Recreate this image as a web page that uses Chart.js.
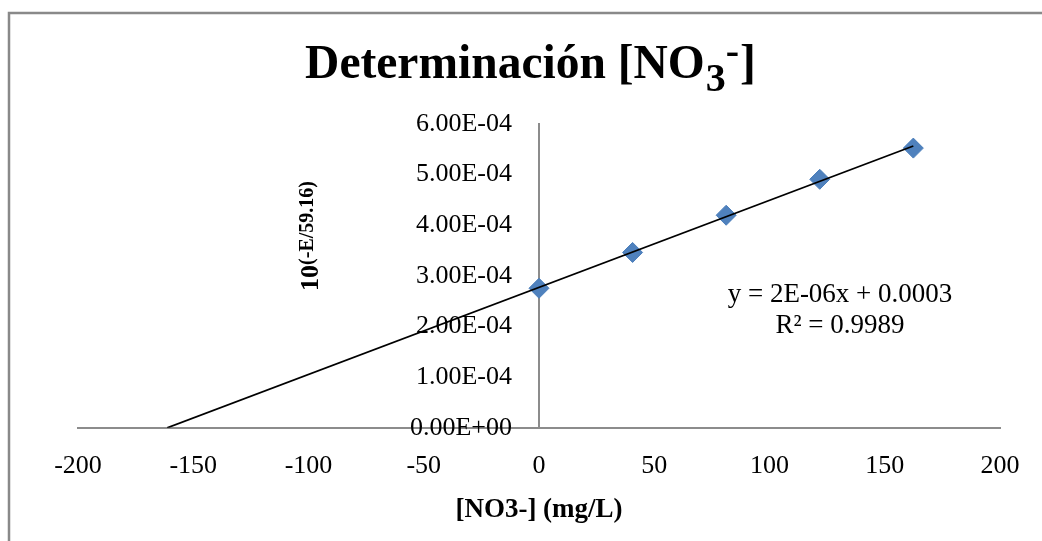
<!DOCTYPE html>
<html><head><meta charset="utf-8">
<script src="https://cdn.jsdelivr.net/npm/chart.js"></script>
<style>html,body{margin:0;padding:0;background:#fff}canvas{display:block}</style>
</head><body>
<canvas id="c" width="1042" height="541"></canvas>
<script>
// ---- data ----
const concentrations = [0, 40.6, 81.2, 121.8, 162.4];          // [NO3-] mg/L
const signal = [2.756e-4, 3.463e-4, 4.198e-4, 4.908e-4, 5.524e-4]; // 10^(-E/59.16)
const xTicks = [-200, -150, -100, -50, 0, 50, 100, 150, 200];
const yTicks = [0, 1e-4, 2e-4, 3e-4, 4e-4, 5e-4, 6e-4];
const chartTitle = ['Determinación [NO', '3', '-', ']'];
const yTitle = ['10', '(-E/59.16)'];
const xTitle = '[NO3-] (mg/L)';
const equationLines = ['y = 2E-06x + 0.0003', 'R² = 0.9989'];

// ---- linear trendline (least squares), extended back to y = 0 ----
const n = concentrations.length;
const mx = concentrations.reduce((a, b) => a + b, 0) / n;
const my = signal.reduce((a, b) => a + b, 0) / n;
let sxy = 0, sxx = 0;
for (let i = 0; i < n; i++) { sxy += (concentrations[i] - mx) * (signal[i] - my); sxx += (concentrations[i] - mx) ** 2; }
const slope = sxy / sxx, intercept = my - slope * mx;
const xStart = -intercept / slope, xEnd = concentrations[n - 1];
const trendData = [xStart, xEnd].map(x => ({ x, y: intercept + slope * x }));
const pointData = concentrations.map((x, i) => ({ x, y: signal[i] }));

function sci(v) {
  if (Math.abs(v) < 1e-12) return '0.00E+00';
  const [m, e] = v.toExponential(2).split('e');
  const ev = parseInt(e, 10);
  return m + 'E' + (ev < 0 ? '-' : '+') + String(Math.abs(ev)).padStart(2, '0');
}

const SERIF = "'Liberation Serif', 'Times New Roman', serif";
Chart.defaults.font.family = SERIF;
Chart.defaults.color = '#000';

const decor = {
  id: 'decor',
  beforeDraw(chart) {
    const ctx = chart.ctx;
    ctx.save();
    ctx.fillStyle = '#fff';
    ctx.fillRect(0, 0, chart.width, chart.height);
    ctx.strokeStyle = '#898989';
    ctx.lineWidth = 2.5;
    ctx.strokeRect(9, 13, chart.width + 20, chart.height + 20);
    ctx.restore();
  },
  afterDraw(chart) {
    const ctx = chart.ctx;
    ctx.save();
    ctx.fillStyle = '#000';
    // title with subscript / superscript
    const big = 'bold 47.5px ' + SERIF, sub = 'bold 40px ' + SERIF;
    ctx.font = big; const w0 = ctx.measureText(chartTitle[0]).width; const w3 = ctx.measureText(chartTitle[3]).width;
    ctx.font = sub; const w1 = ctx.measureText(chartTitle[1]).width; const w2 = ctx.measureText(chartTitle[2]).width;
    const total = w0 + w1 + w2 + w3 + 2;
    let x = 530.5 - total / 2; const base = 78;
    ctx.textBaseline = 'alphabetic'; ctx.textAlign = 'left';
    ctx.font = big; ctx.fillText(chartTitle[0], x, base); x += w0 + 1;
    ctx.font = sub; ctx.fillText(chartTitle[1], x, base + 13); x += w1;
    ctx.fillText(chartTitle[2], x, base - 14); x += w2 + 1;
    ctx.font = big; ctx.fillText(chartTitle[3], x, base);
    // y axis title, rotated
    ctx.save();
    ctx.translate(318, 236);
    ctx.rotate(-Math.PI / 2);
    const f1 = 'bold 26px ' + SERIF, f2 = 'bold 20px ' + SERIF;
    ctx.font = f1; const a = ctx.measureText(yTitle[0]).width;
    ctx.font = f2; const b = ctx.measureText(yTitle[1]).width;
    let tx = -(a + b) / 2;
    ctx.font = f1; ctx.fillText(yTitle[0], tx, 0); tx += a;
    ctx.font = f2; ctx.fillText(yTitle[1], tx, -5);
    ctx.restore();
    // trendline equation
    ctx.font = '27px ' + SERIF; ctx.textAlign = 'center';
    ctx.fillText(equationLines[0], 840, 302);
    ctx.fillText(equationLines[1], 840, 333);
    ctx.restore();
  }
};

new Chart(document.getElementById('c'), {
  type: 'scatter',
  data: {
    datasets: [
      { label: 'data', data: pointData, order: 1, pointStyle: 'rectRot', pointRadius: 10, pointHoverRadius: 10,
        backgroundColor: '#4F81BD', borderColor: '#4A7EBB', borderWidth: 1 },
      { label: 'trend', data: trendData, order: 0, showLine: true, pointRadius: 0, borderColor: '#000', borderWidth: 1.8, fill: false }
    ]
  },
  options: {
    responsive: false, devicePixelRatio: 1, animation: false,
    layout: { padding: { left: 78, right: 42, top: 124, bottom: 17 } },
    plugins: { legend: { display: false }, tooltip: { enabled: false }, title: { display: false } },
    scales: {
      x: {
        type: 'linear', min: -200, max: 200, position: 'bottom',
        afterBuildTicks: s => { s.ticks = xTicks.map(v => ({ value: v })); },
        grid: { display: false },
        border: { display: true, color: '#8C8C8C', width: 2 },
        ticks: { padding: 15, font: { size: 26 }, color: '#000' },
        title: { display: true, text: xTitle, font: { size: 27, weight: 'bold', lineHeight: 1 }, color: '#000', padding: { top: 0, bottom: 0 } }
      },
      y: {
        type: 'linear', min: 0, max: 6e-4, position: { x: 0 },
        afterBuildTicks: s => { s.ticks = yTicks.map(v => ({ value: v })); },
        grid: { display: false },
        border: { display: true, color: '#8C8C8C', width: 2 },
        ticks: { display: false }
      },
      yLabels: {
        type: 'linear', axis: 'y', min: 0, max: 6e-4, position: { x: -11.7 },
        afterBuildTicks: s => { s.ticks = yTicks.map(v => ({ value: v })); },
        grid: { display: false },
        border: { display: false },
        ticks: { font: { size: 26 }, color: '#000', callback: v => sci(v) }
      }
    }
  },
  plugins: [decor]
});
</script>
</body></html>
